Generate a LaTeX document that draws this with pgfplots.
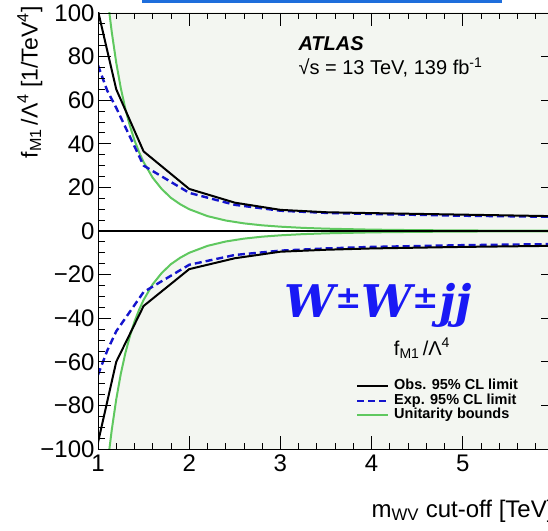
\documentclass[border=0pt]{standalone}
\usepackage{pgfplots}
\pgfplotsset{compat=1.18}
\usepackage{fontspec}
\setmainfont{Liberation Sans}
\newfontfamily\wfont{DejaVu Serif}
\definecolor{ugreen}{RGB}{95,200,95}
\definecolor{eblue}{RGB}{20,20,205}
\definecolor{hfill}{RGB}{243,246,241}
\definecolor{wblue}{RGB}{25,25,245}
\definecolor{boxblue}{RGB}{30,110,220}
\begin{document}
\begin{tikzpicture}[x=1pt,y=1pt]
\useasboundingbox (0,0) rectangle (548,530);
\draw[boxblue, line width=3pt] (143,545) rectangle (500,528.5);
\begin{axis}[
  at={(98pt,81pt)}, anchor=south west, scale only axis,
  width=456pt, height=436pt,
  xmin=1, xmax=6, ymin=-100, ymax=100,
  xtick={1,2,3,4,5,6}, minor x tick num=4,
  ytick={-100,-80,-60,-40,-20,0,20,40,60,80,100},
  yticklabels={−100,−80,−60,−40,−20,0,20,40,60,80,100},
  minor y tick num=3,
  tick align=inside, major tick length=13pt, minor tick length=6.5pt,
  ticklabel style={font=\fontsize{24}{24}\selectfont},
  xticklabel style={yshift=-2pt},
  /pgf/number format/assume math mode=true,
  axis line style={line width=0.8pt},
  every tick/.style={black, line width=0.8pt},
  axis on top=true,
  legend style={at={(axis description cs:0.566,0.161)}, anchor=north west,
    draw=none, fill=none, font=\fontsize{14.5}{14}\selectfont\bfseries,
    row sep=0pt, inner sep=0pt,
    nodes={inner sep=0.5pt, text height=10.3pt, text depth=3.2pt},
    /tikz/every odd column/.append style={column sep=4pt}},
  legend image code/.code={\draw[#1] (0pt,0pt) -- (31pt,0pt);},
  legend cell align=left,
]
% excluded regions beyond unitarity bounds
\addplot[draw=none, fill=hfill, forget plot] coordinates {
(1.12,101.7)(1.15,91.5)(1.2,77.2)(1.25,65.5)(1.3,56.0)(1.35,48.2)(1.4,41.6)(1.45,36.2)(1.5,31.6)(1.6,24.4)(1.7,19.2)(1.8,15.2)(1.9,12.3)(2.0,10.0)(2.2,6.83)(2.4,4.82)(2.6,3.50)(2.8,2.60)(3.0,1.98)(3.25,1.43)(3.5,1.07)(4.0,0.625)(4.5,0.39)(5.0,0.256)(5.5,0.175)(6.0,0.123)(6.0,101)(1.12,101)};
\addplot[draw=none, fill=hfill, forget plot] coordinates {
(1.12,-101.7)(1.15,-91.5)(1.2,-77.2)(1.25,-65.5)(1.3,-56.0)(1.35,-48.2)(1.4,-41.6)(1.45,-36.2)(1.5,-31.6)(1.6,-24.4)(1.7,-19.2)(1.8,-15.2)(1.9,-12.3)(2.0,-10.0)(2.2,-6.83)(2.4,-4.82)(2.6,-3.50)(2.8,-2.60)(3.0,-1.98)(3.25,-1.43)(3.5,-1.07)(4.0,-0.625)(4.5,-0.39)(5.0,-0.256)(5.5,-0.175)(6.0,-0.123)(6.0,-101)(1.12,-101)};
% unitarity bounds
\addplot[ugreen, line width=2pt, forget plot] coordinates {
(1.12,101.7)(1.15,91.5)(1.2,77.2)(1.25,65.5)(1.3,56.0)(1.35,48.2)(1.4,41.6)(1.45,36.2)(1.5,31.6)(1.6,24.4)(1.7,19.2)(1.8,15.2)(1.9,12.3)(2.0,10.0)(2.2,6.83)(2.4,4.82)(2.6,3.50)(2.8,2.60)(3.0,1.98)(3.25,1.43)(3.5,1.07)(4.0,0.625)(4.5,0.39)(5.0,0.256)(5.5,0.175)(6.0,0.123)};
\addplot[ugreen, line width=2pt, forget plot] coordinates {
(1.12,-101.7)(1.15,-91.5)(1.2,-77.2)(1.25,-65.5)(1.3,-56.0)(1.35,-48.2)(1.4,-41.6)(1.45,-36.2)(1.5,-31.6)(1.6,-24.4)(1.7,-19.2)(1.8,-15.2)(1.9,-12.3)(2.0,-10.0)(2.2,-6.83)(2.4,-4.82)(2.6,-3.50)(2.8,-2.60)(3.0,-1.98)(3.25,-1.43)(3.5,-1.07)(4.0,-0.625)(4.5,-0.39)(5.0,-0.256)(5.5,-0.175)(6.0,-0.123)};
% expected limits
\addplot[eblue, line width=2.4pt, dash pattern=on 7pt off 4pt, forget plot] coordinates {
(1.0,76)(1.1,64.5)(1.2,56.5)(1.5,30)(2.0,17.5)(2.5,12)(3.0,9.3)(3.5,8.3)(4.0,7.8)(5.0,7.0)(6.0,6.5)};
\addplot[eblue, line width=2.4pt, dash pattern=on 7pt off 4pt, forget plot] coordinates {
(1.0,-66)(1.1,-55)(1.2,-46)(1.5,-28)(2.0,-15.5)(2.5,-11)(3.0,-9)(3.5,-8)(4.0,-7.3)(5.0,-6.5)(6.0,-6.0)};
% observed limits
\addplot[black, line width=2pt, forget plot] coordinates {
(1.0,101)(1.2,65)(1.5,36.5)(2.0,19.3)(2.5,13)(3.0,9.7)(3.5,8.6)(4.0,8.2)(5.0,7.5)(6.0,6.8)};
\addplot[black, line width=2pt, forget plot] coordinates {
(1.0,-97)(1.2,-60)(1.5,-34.4)(2.0,-17.5)(2.5,-12.5)(3.0,-9.5)(3.5,-8.6)(4.0,-8.0)(5.0,-7.3)(6.0,-6.8)};
% zero line
\addplot[black, line width=1.8pt, forget plot] coordinates {(1,0)(6,0)};
\addlegendimage{black, line width=2pt}
\addlegendentry{Obs. 95\% CL limit}
\addlegendimage{eblue, line width=2.4pt, dash pattern=on 7pt off 4pt}
\addlegendentry{Exp. 95\% CL limit}
\addlegendimage{ugreen, line width=2pt}
\addlegendentry{Unitarity bounds}
\end{axis}
\node[anchor=base west, font=\fontsize{20}{20}\selectfont\bfseries\itshape] at (295,479) {ATLAS};
\node[anchor=base west, font=\fontsize{20}{20}\selectfont] at (295,455) {√s = 13 TeV, 139 fb\textsuperscript{-1}};
\node[anchor=base, font=\fontsize{20}{20}\selectfont] at (422,175) {f\textsubscript{M1}\,/Λ\textsuperscript{4}};
\node[anchor=base west, text=wblue, font=\wfont\fontsize{45}{45}\selectfont\bfseries\itshape] at (281,212) {W\textsuperscript{±}W\textsuperscript{±}jj};
\node[anchor=base east, font=\fontsize{24}{24}\selectfont] at (557,13) {m\textsubscript{WV} cut-off [TeV]};
\node[anchor=base east, rotate=90, font=\fontsize{23}{23}\selectfont] at (37.5,527) {f\textsubscript{M1}\,/Λ\textsuperscript{4} [1/TeV\textsuperscript{4}]};
\end{tikzpicture}
\end{document}
